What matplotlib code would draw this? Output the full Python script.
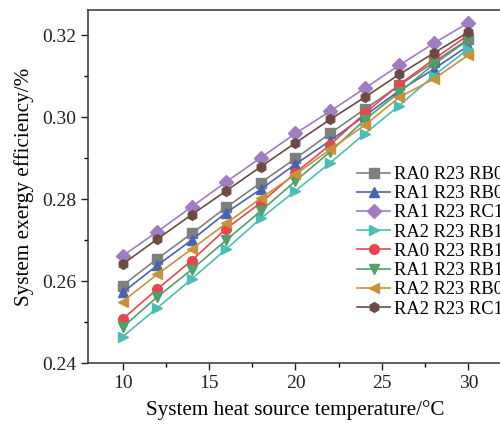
import matplotlib
matplotlib.use("Agg")
import matplotlib.pyplot as plt
from matplotlib.ticker import MultipleLocator

plt.rcParams['font.family'] = ['Liberation Serif', 'DejaVu Serif']
plt.rcParams['mathtext.fontset'] = 'stix'

temps = [10, 12, 14, 16, 18, 20, 22, 24, 26, 28, 30]

labels = ["RA0 R23 RB0", "RA1 R23 RB0", "RA1 R23 RC1", "RA2 R23 RB1",
          "RA0 R23 RB1", "RA1 R23 RB1", "RA2 R23 RB0", "RA2 R23 RC1"]

ra0_rb0 = [0.2589, 0.2654, 0.2716, 0.2780, 0.2840, 0.2899, 0.2960, 0.3019, 0.3077, 0.3134, 0.3190]
ra1_rb0 = [0.2572, 0.2638, 0.2700, 0.2767, 0.2824, 0.2885, 0.2942, 0.3003, 0.3064, 0.3117, 0.3174]
ra1_rc1 = [0.2661, 0.2720, 0.2781, 0.2842, 0.2901, 0.2960, 0.3014, 0.3070, 0.3126, 0.3180, 0.3230]
ra2_rb1 = [0.2464, 0.2534, 0.2605, 0.2678, 0.2753, 0.2820, 0.2888, 0.2959, 0.3028, 0.3101, 0.3166]
ra0_rb1 = [0.2507, 0.2580, 0.2650, 0.2728, 0.2791, 0.2864, 0.2932, 0.3009, 0.3079, 0.3141, 0.3200]
ra1_rb1 = [0.2487, 0.2561, 0.2628, 0.2700, 0.2771, 0.2844, 0.2915, 0.2993, 0.3060, 0.3129, 0.3188]
ra2_rb0 = [0.2550, 0.2616, 0.2678, 0.2741, 0.2802, 0.2860, 0.2921, 0.2980, 0.3048, 0.3093, 0.3151]
ra2_rc1 = [0.2641, 0.2702, 0.2762, 0.2820, 0.2879, 0.2937, 0.2994, 0.3048, 0.3104, 0.3156, 0.3207]

series = [ra0_rb0, ra1_rb0, ra1_rc1, ra2_rb1, ra0_rb1, ra1_rb1, ra2_rb0, ra2_rc1]
colors = ["#7f7f7f", "#4a63ad", "#a07cc0", "#4cbdb5", "#e5484c", "#50a06a", "#c8923a", "#6e4a44"]
markers = ["s", "^", "D", ">", "o", "v", "<", "h"]

fig = plt.figure(figsize=(5.0, 4.24), dpi=100)
ax = fig.add_axes([88/500, 61/424, 415/500, 353/424])

for vals, lab, c, m in zip(series, labels, colors, markers):
    ax.plot(temps, vals, color=c, marker=m, markersize=7, linewidth=1.2, label=lab)

ax.set_xlim(8, 32)
ax.set_ylim(0.24, 0.3261)
ax.xaxis.set_major_locator(MultipleLocator(5))
ax.xaxis.set_minor_locator(MultipleLocator(2.5))
ax.yaxis.set_major_locator(MultipleLocator(0.02))
ax.yaxis.set_minor_locator(MultipleLocator(0.01))
ax.set_yticklabels([f"{v:.2f}" for v in ax.get_yticks()])
ax.tick_params(which='major', direction='out', length=5, width=1, labelsize=14, colors='#222222')
ax.tick_params(which='minor', direction='out', length=3, width=1)
for s in ax.spines.values():
    s.set_color('#333333')
    s.set_linewidth(1.1)

ax.set_xlabel("System heat source temperature/°C", fontsize=15.2, labelpad=6)
ax.set_ylabel("System exergy efficiency/%", fontsize=15.2, labelpad=6)

leg = ax.legend(loc='upper left', bbox_to_anchor=(357/500, 1 - 166/424),
                bbox_transform=fig.transFigure, frameon=False, fontsize=13.3,
                handlelength=1.8, handletextpad=0.2, labelspacing=0.12, borderpad=0,
                borderaxespad=0)

fig.savefig("out.png", dpi=100)
